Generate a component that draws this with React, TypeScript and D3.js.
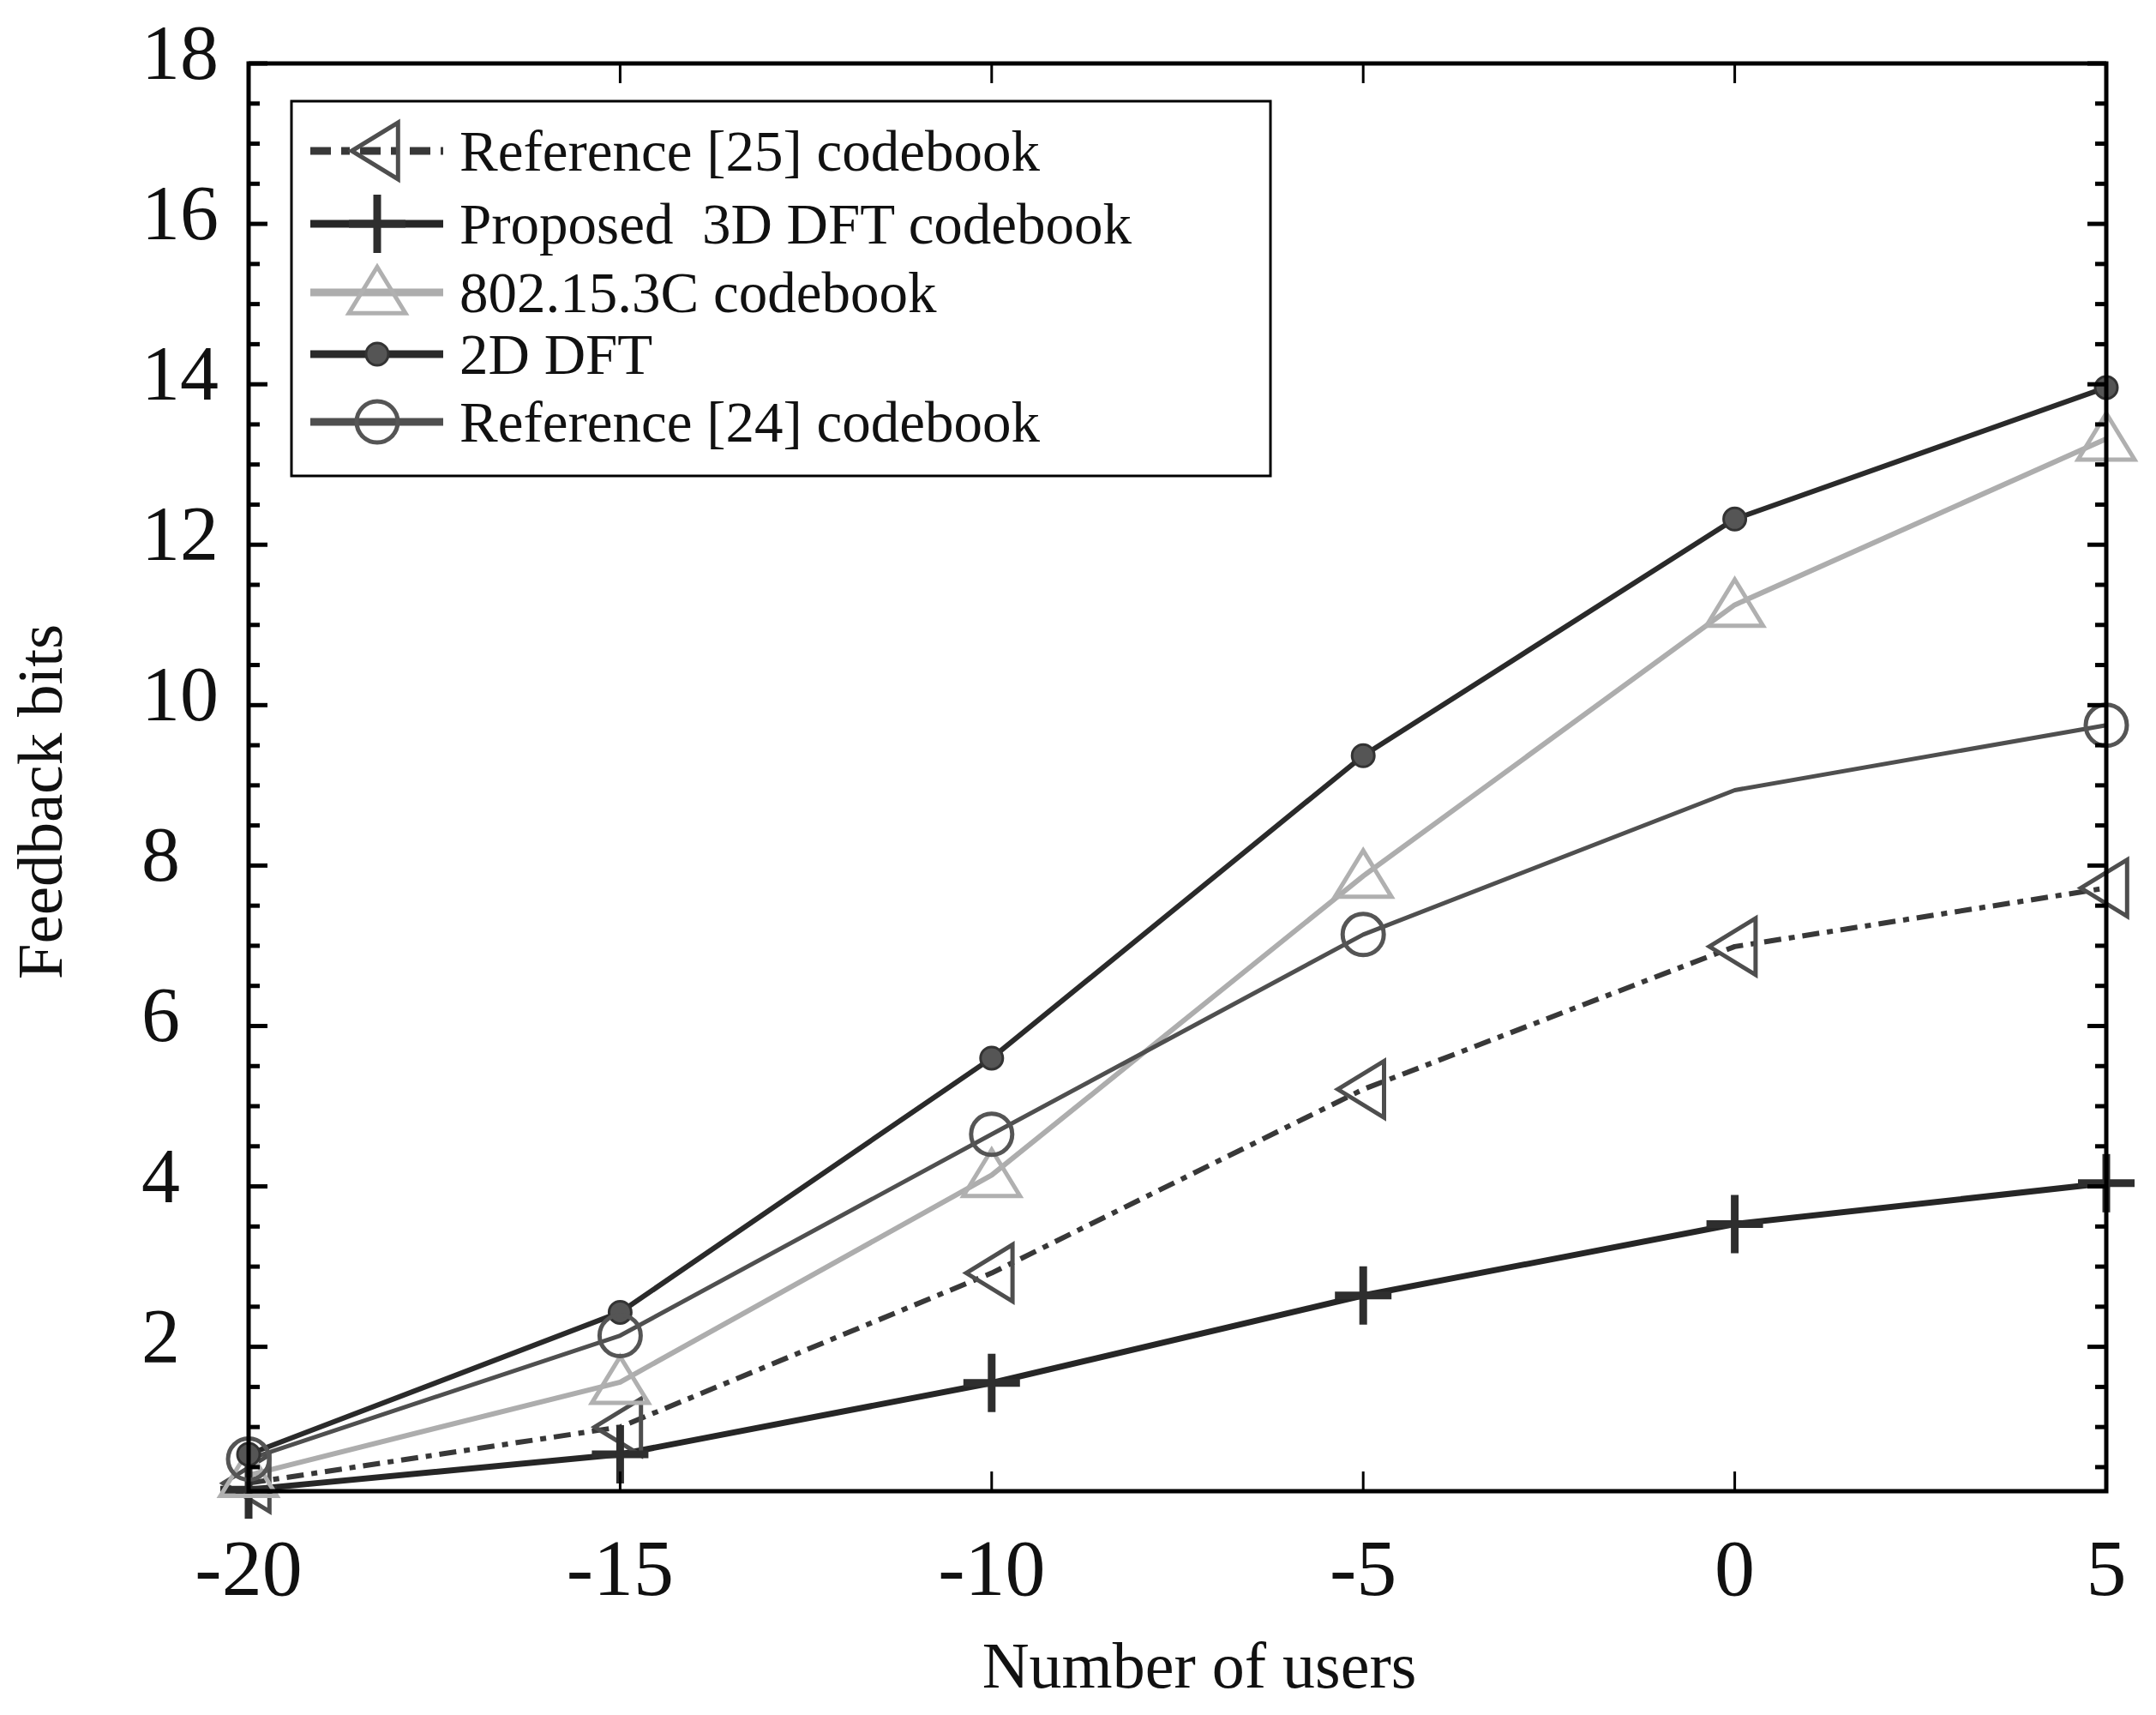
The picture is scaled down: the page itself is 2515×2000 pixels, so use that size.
import React from "react";
import * as d3 from "d3";

// x positions (as printed on the axis) and series values
const xValues = [-20, -15, -10, -5, 0, 5];
const ref25Codebook = [0.3, 1.0, 2.92, 5.21, 6.99, 7.72];
const proposed3D = [0.22, 0.66, 1.55, 2.64, 3.53, 4.04];
const ieee802 = [0.4, 1.56, 4.14, 7.87, 11.25, 13.32];
const dft2D = [0.66, 2.43, 5.6, 9.37, 12.32, 13.96];
const ref24Codebook = [0.6, 2.14, 4.65, 7.14, 8.94, 9.75];
// the reference [24] curve has no marker at x = 0
const ref24Markers = [true, true, true, true, false, true];

const yTickValues = [2, 4, 6, 8, 10, 12, 14, 16, 18];
const legendLabels = [
  "Reference [25] codebook",
  "Proposed  3D DFT codebook",
  "802.15.3C codebook",
  "2D DFT",
  "Reference [24] codebook",
];

type MarkerKind = "triLeft" | "plus" | "triUp" | "dot" | "circle";

interface Series {
  name: string;
  values: number[];
  color: string;
  markerColor: string;
  width: number;
  dash?: string;
  marker: MarkerKind;
  show?: boolean[];
}

const series: Series[] = [
  { name: legendLabels[0], values: ref25Codebook, color: "#383838", markerColor: "#4e4e4e", width: 6, dash: "20,9,7,9", marker: "triLeft" },
  { name: legendLabels[1], values: proposed3D, color: "#262626", markerColor: "#2e2e2e", width: 7, marker: "plus" },
  { name: legendLabels[2], values: ieee802, color: "#adadad", markerColor: "#b0b0b0", width: 6, marker: "triUp" },
  { name: legendLabels[3], values: dft2D, color: "#2a2a2a", markerColor: "#555555", width: 6, marker: "dot" },
  { name: legendLabels[4], values: ref24Codebook, color: "#4f4f4f", markerColor: "#555555", width: 5, marker: "circle", show: ref24Markers },
];

const FONT = "'Liberation Serif', 'Times New Roman', serif";

function Marker({ kind, x, y, color }: { kind: MarkerKind; x: number; y: number; color: string }) {
  switch (kind) {
    case "triUp": {
      const w = 66, h = 54;
      const pts = [[x, y - h * 0.55], [x - w / 2, y + h * 0.45], [x + w / 2, y + h * 0.45]];
      return <polygon points={pts.map(p => p.join(",")).join(" ")} fill="none" stroke={color} strokeWidth={5} />;
    }
    case "triLeft": {
      const w = 54, h = 66;
      const pts = [[x - w * 0.55, y], [x + w * 0.45, y - h / 2], [x + w * 0.45, y + h / 2]];
      return <polygon points={pts.map(p => p.join(",")).join(" ")} fill="none" stroke={color} strokeWidth={5} />;
    }
    case "plus":
      return (
        <g stroke={color} strokeWidth={9}>
          <line x1={x - 33} x2={x + 33} y1={y} y2={y} />
          <line x1={x} x2={x} y1={y - 34} y2={y + 34} />
        </g>
      );
    case "dot":
      return <circle cx={x} cy={y} r={13} fill={color} stroke="#333" strokeWidth={3} />;
    case "circle":
      return <circle cx={x} cy={y} r={24} fill="none" stroke={color} strokeWidth={5} />;
  }
}

export default function App() {
  const width = 2515;
  const height = 2000;
  const left = 290, right = 2457, top = 74, bottom = 1739;

  const xScale = d3.scaleLinear().domain([-20, 5]).range([left, right]);
  const yScale = d3.scaleLinear().domain([0.2, 18]).range([bottom, top]);

  const line = d3.line<number>()
    .x((_, i) => xScale(xValues[i]))
    .y(d => yScale(d));

  const minorTicks = d3.range(0.5, 18, 0.5).filter(v => v >= 0.2 && v % 2 !== 0);

  // legend geometry
  const legend = { x: 340, y: 118, w: 1142, h: 437 };
  const legendRows = [176, 261, 341, 413, 492];

  return (
    <svg width={width} height={height} style={{ position: "absolute", left: 0, top: 0, background: "#fff" }}>
      <rect x={0} y={0} width={width} height={height} fill="#fff" />

      {/* series lines */}
      {series.map(s => (
        <path key={s.name} d={line(s.values) || ""} fill="none" stroke={s.color}
          strokeWidth={s.width} strokeDasharray={s.dash} strokeLinejoin="round" />
      ))}
      {/* markers */}
      {series.map(s => s.values.map((v, i) =>
        (s.show ? s.show[i] : true) ? (
          <Marker key={s.name + i} kind={s.marker} x={xScale(xValues[i])} y={yScale(v)} color={s.markerColor} />
        ) : null
      ))}

      {/* axes box */}
      <rect x={left} y={top} width={right - left} height={bottom - top} fill="none" stroke="#000" strokeWidth={5} />

      {/* x ticks, bottom and top */}
      {xValues.slice(1, -1).map(v => (
        <g key={"xt" + v} stroke="#000" strokeWidth={3}>
          <line x1={xScale(v)} x2={xScale(v)} y1={bottom} y2={bottom - 23} />
          <line x1={xScale(v)} x2={xScale(v)} y1={top} y2={top + 23} />
        </g>
      ))}
      {xValues.map(v => (
        <text key={"xl" + v} x={xScale(v)} y={1860} textAnchor="middle" fontFamily={FONT} fontSize={94} fill="#111">
          {v < 0 ? "-" + Math.abs(v) : v}
        </text>
      ))}

      {/* y ticks, left and right */}
      {yTickValues.concat(minorTicks).map(v => {
        const len = v % 2 === 0 ? 22 : 13;
        return (
          <g key={"yt" + v} stroke="#000" strokeWidth={5}>
            <line x1={left} x2={left + len} y1={yScale(v)} y2={yScale(v)} />
            <line x1={right} x2={right - len} y1={yScale(v)} y2={yScale(v)} />
          </g>
        );
      })}
      {yTickValues.map(v => (
        <text key={"yl" + v} x={165} y={yScale(v) + 18} textAnchor="start" fontFamily={FONT} fontSize={90} fill="#111">
          {v}
        </text>
      ))}

      {/* axis titles */}
      <text x={1399} y={1968} textAnchor="middle" fontFamily={FONT} fontSize={76} fill="#111">Number of users</text>
      <text transform={`translate(${72},${935}) rotate(-90)`} textAnchor="middle" fontFamily={FONT} fontSize={75} fill="#111">
        Feedback bits
      </text>

      {/* legend */}
      <rect x={legend.x} y={legend.y} width={legend.w} height={legend.h} fill="#fff" stroke="#000" strokeWidth={3} />
      {series.map((s, i) => {
        const y = legendRows[i];
        return (
          <g key={"lg" + s.name}>
            <line x1={362} x2={517} y1={y} y2={y} stroke={s.color} strokeWidth={9} strokeDasharray={s.dash ? "24,12,10,12" : undefined} />
            <Marker kind={s.marker} x={440} y={y} color={s.markerColor} />
            <text x={536} y={y + 23} fontFamily={FONT} fontSize={67} fill="#111" style={{ whiteSpace: "pre" }}>{s.name}</text>
          </g>
        );
      })}
    </svg>
  );
}
